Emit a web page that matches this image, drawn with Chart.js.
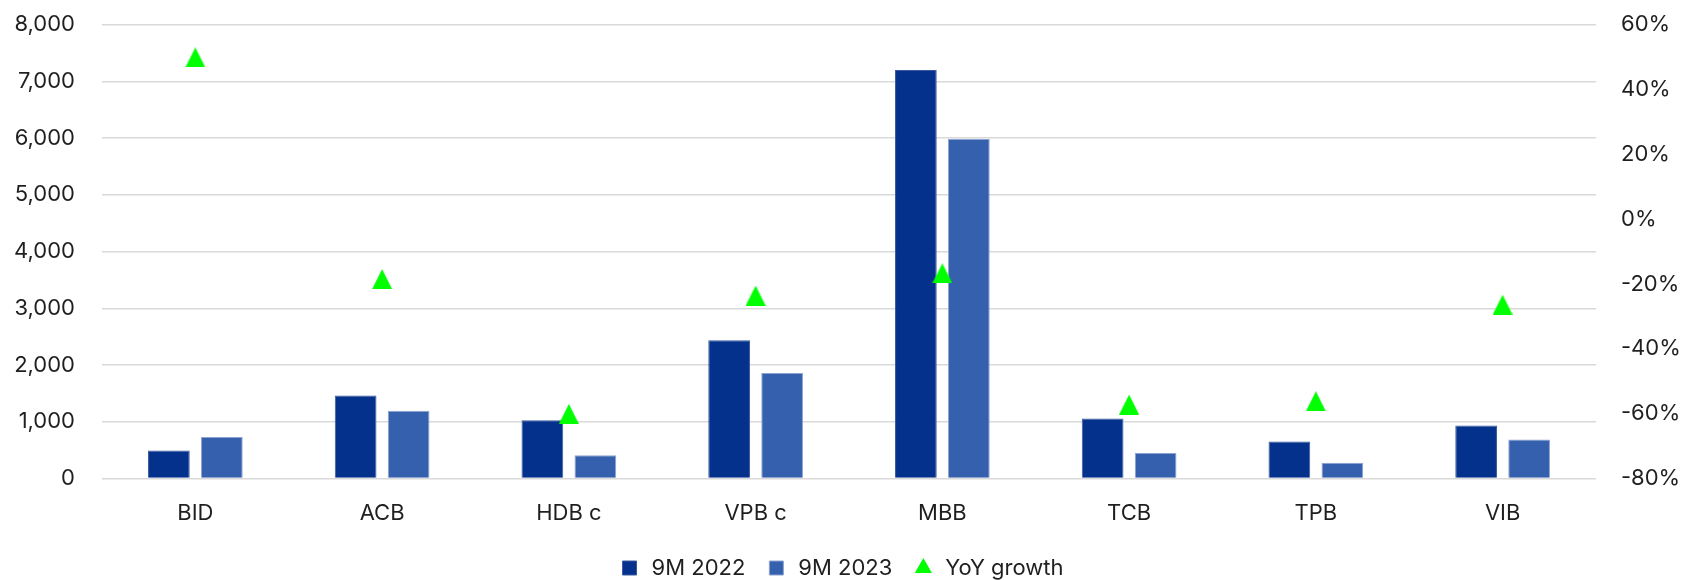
<!DOCTYPE html>
<html>
<head>
<meta charset="utf-8">
<script src="https://cdn.jsdelivr.net/npm/chart.js@4/dist/chart.umd.min.js"></script>
<style>
  html, body { margin: 0; padding: 0; background: #ffffff; }
  #wrap { width: 1682px; height: 580px; position: relative; }
</style>
</head>
<body>
<div id="wrap"><canvas id="bankChart"></canvas></div>
<script>
        // Data per bank
        const banks = ['BID', 'ACB', 'HDB c', 'VPB c', 'MBB', 'TCB', 'TPB', 'VIB'];
        const profit2022 = [490, 1463, 1024, 2435, 7200, 1056, 649, 934];
        const profit2023 = [732, 1195, 406, 1859, 5990, 448, 277, 686];
        const yoyGrowth = [49.9, -18.5, -60.1, -23.6, -16.7, -57.2, -56.2, -26.4];

        const textColor = '#1f1f1f';
        const fontFamily = 'Inter, "Noto Sans", sans-serif';

        // Marker segitiga yang titik tengahnya di tengah kotak (seperti Excel)
        function makeTriangle(size, color) {
            const c = document.createElement('canvas');
            c.width = size;
            c.height = size;
            const g = c.getContext('2d');
            g.fillStyle = color;
            g.beginPath();
            g.moveTo(size / 2, 0);
            g.lineTo(size, size);
            g.lineTo(0, size);
            g.closePath();
            g.fill();
            return c;
        }

        // fixed axis width, and drop the extra vertical padding tick padding adds
        function fixYAxis(width) {
            return function(scale) {
                scale.width = width;
                scale.paddingTop = 0;
                scale.paddingBottom = 0;
            };
        }

        function initChart() {
            const ctx = document.getElementById('bankChart').getContext('2d');
            const triangle = makeTriangle(20, '#00ff00');

            new Chart(ctx, {
                type: 'bar',
                data: {
                    labels: banks,
                    datasets: [{
                        label: '9M 2022',
                        data: profit2022,
                        backgroundColor: '#03318c',
                        borderColor: '#3a5aa0',
                        borderWidth: 1,
                        pointStyle: 'rect',
                        yAxisID: 'y',
                        order: 1,
                        categoryPercentage: 0.5676,
                        barPercentage: 0.787
                    }, {
                        label: '9M 2023',
                        data: profit2023,
                        backgroundColor: '#3460ae',
                        borderColor: '#8ea3cf',
                        borderWidth: 1,
                        pointStyle: 'rect',
                        yAxisID: 'y',
                        order: 1,
                        categoryPercentage: 0.5676,
                        barPercentage: 0.787
                    }, {
                        type: 'line',
                        label: 'YoY growth',
                        data: yoyGrowth,
                        showLine: false,
                        pointStyle: triangle,
                        pointRadius: 10,
                        pointHoverRadius: 10,
                        backgroundColor: '#00ff00',
                        borderColor: '#00ff00',
                        borderWidth: 0,
                        yAxisID: 'y1',
                        order: 0
                    }]
                },
                options: {
                    responsive: true,
                    maintainAspectRatio: false,
                    animation: false,
                    layout: {
                        padding: { top: 24.7, bottom: -9, left: 0, right: 0 }
                    },
                    plugins: {
                        tooltip: { enabled: false },
                        legend: {
                            position: 'bottom',
                            labels: {
                                usePointStyle: true,
                                boxHeight: 14,
                                padding: 20,
                                color: textColor,
                                font: { family: fontFamily, size: 22 },
                                sort: (a, b) => a.datasetIndex - b.datasetIndex,
                                generateLabels: function(chart) {
                                    const items = Chart.defaults.plugins.legend.labels.generateLabels(chart);
                                    items.forEach(function(item) {
                                        if (item.datasetIndex === 2) {
                                            item.pointStyle = 'triangle';
                                        }
                                    });
                                    return items;
                                }
                            }
                        }
                    },
                    scales: {
                        x: {
                            grid: { display: false, drawTicks: false },
                            border: { display: false },
                            ticks: {
                                color: textColor,
                                padding: 22,
                                font: { family: fontFamily, size: 22 }
                            },
                            afterFit: function(scale) { scale.height = 58.6; }
                        },
                        y: {
                            position: 'left',
                            min: 0,
                            max: 8000,
                            grid: { color: '#d9d9d9', lineWidth: 1.5, drawTicks: false },
                            border: { display: false },
                            ticks: {
                                stepSize: 1000,
                                padding: 27,
                                color: textColor,
                                font: { family: fontFamily, size: 22 },
                                callback: function(value) {
                                    return value.toLocaleString('en-US');
                                }
                            },
                            afterFit: fixYAxis(102)
                        },
                        y1: {
                            position: 'right',
                            min: -80,
                            max: 60,
                            grid: { display: false, drawTicks: false },
                            border: { display: false },
                            ticks: {
                                stepSize: 20,
                                padding: 25,
                                color: textColor,
                                font: { family: fontFamily, size: 22 },
                                callback: function(value) {
                                    return value + '%';
                                }
                            },
                            afterFit: fixYAxis(86)
                        }
                    }
                }
            });
        }

        window.addEventListener('load', initChart);
</script>
</body>
</html>
